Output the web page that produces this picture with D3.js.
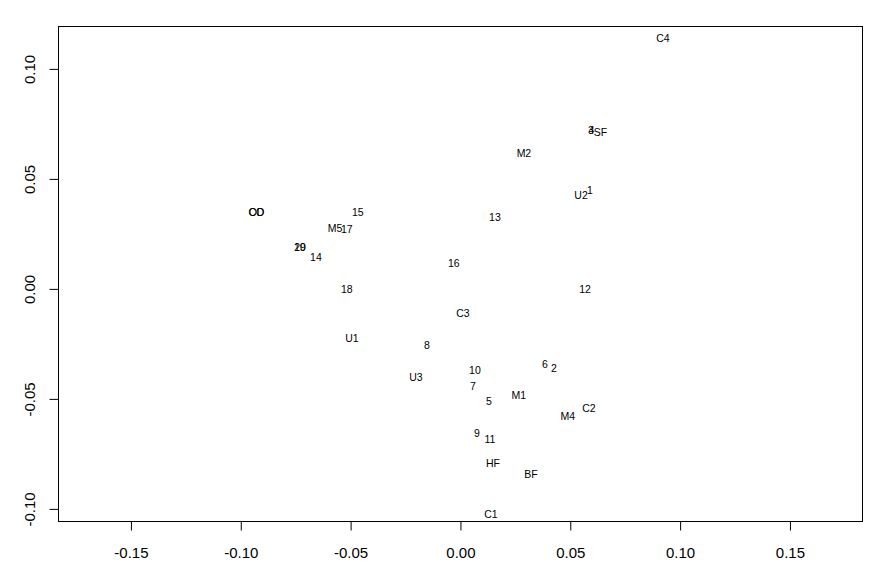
<!DOCTYPE html>
<html>
<head>
<meta charset="utf-8">
<script src="https://cdn.jsdelivr.net/npm/d3@7"></script>
<style>
  body { margin: 0; background: #fff; }
  text { font-family: "Liberation Sans", Arial, sans-serif; }
</style>
</head>
<body>
<div id="chart"></div>
<script>
// point labels and their coordinates
const labels = ['C4', '3', '4', 'SF', 'M2', 'U2', '1', 'CO', 'OD', '15', 'M5', '17', '13',
    '19', '20', '14', '16', '18', '12', 'C3', 'U1', '8', '10', '6', '2', 'U3', '7', 'M1',
    '5', 'C2', 'M4', '9', '11', 'HF', 'BF', 'C1'];
const xs = [0.0922, 0.0594, 0.0596, 0.0637, 0.0289, 0.0549, 0.0590, -0.0929, -0.0928, -0.0467,
    -0.0571, -0.0517, 0.0157, -0.0731, -0.0730, -0.0658, -0.0030, -0.0517, 0.0567, 0.0011,
    -0.0494, -0.0153, 0.0066, 0.0385, 0.0426, -0.0203, 0.0057, 0.0266, 0.0130, 0.0585,
    0.0489, 0.0075, 0.0134, 0.0148, 0.0321, 0.0139];
const ys = [0.1141, 0.0723, 0.0720, 0.0710, 0.0614, 0.0427, 0.0450, 0.0350, 0.0350, 0.0350,
    0.0277, 0.0273, 0.0327, 0.0191, 0.0191, 0.0145, 0.0118, 0.0000, 0.0000, -0.0109,
    -0.0223, -0.0255, -0.0368, -0.0345, -0.0359, -0.0400, -0.0445, -0.0486, -0.0509, -0.0541,
    -0.0577, -0.0655, -0.0682, -0.0791, -0.0845, -0.1023];
const xTicks = [-0.15, -0.10, -0.05, 0.00, 0.05, 0.10, 0.15];
const yTicks = [-0.10, -0.05, 0.00, 0.05, 0.10];

const width = 881, height = 577;
const margin = { left: 58, right: 19, top: 26, bottom: 56 };

// plain hyphen for negatives, like the original
const fmt = d => d.toFixed(2);

const svg = d3.select('#chart')
    .append('svg')
    .attr('width', width)
    .attr('height', height);

const x = d3.scaleLinear()
    .domain([-0.1832, 0.1828])
    .range([margin.left, width - margin.right]);

const y = d3.scaleLinear()
    .domain([-0.1055, 0.1195])
    .range([height - margin.bottom, margin.top]);

// box
svg.append('rect')
    .attr('x', margin.left + 0.5)
    .attr('y', margin.top + 0.5)
    .attr('width', width - margin.left - margin.right)
    .attr('height', height - margin.top - margin.bottom)
    .attr('fill', 'none')
    .attr('stroke', '#000')
    .attr('stroke-width', 1);

// x axis
const xAxis = svg.append('g')
    .attr('transform', 'translate(0,' + (height - margin.bottom + 0.5) + ')')
    .call(d3.axisBottom(x).tickValues(xTicks).tickSize(9).tickSizeOuter(0)
        .tickFormat(fmt));
xAxis.select('.domain').remove();
xAxis.selectAll('text')
    .attr('dy', '1.6em')
    .style('font-size', '15px')
    .attr('fill', '#000');

// y axis
const yAxis = svg.append('g')
    .attr('transform', 'translate(' + (margin.left + 0.5) + ',0)')
    .call(d3.axisLeft(y).tickValues(yTicks).tickSize(9).tickSizeOuter(0)
        .tickFormat(fmt));
yAxis.select('.domain').remove();
yAxis.selectAll('text')
    .attr('x', 0)
    .attr('dy', 0)
    .attr('text-anchor', 'middle')
    .attr('transform', 'translate(-24,0) rotate(-90)')
    .style('font-size', '15px')
    .attr('fill', '#000');
svg.selectAll('.tick line').attr('stroke', '#000');

// point labels
svg.append('g')
    .selectAll('text')
    .data(labels)
    .enter()
    .append('text')
    .attr('x', (d, i) => x(xs[i]))
    .attr('y', (d, i) => y(ys[i]))
    .attr('dy', '0.35em')
    .attr('text-anchor', 'middle')
    .style('font-size', '10.5px')
    .attr('fill', '#000')
    .text(d => d);
</script>
</body>
</html>
